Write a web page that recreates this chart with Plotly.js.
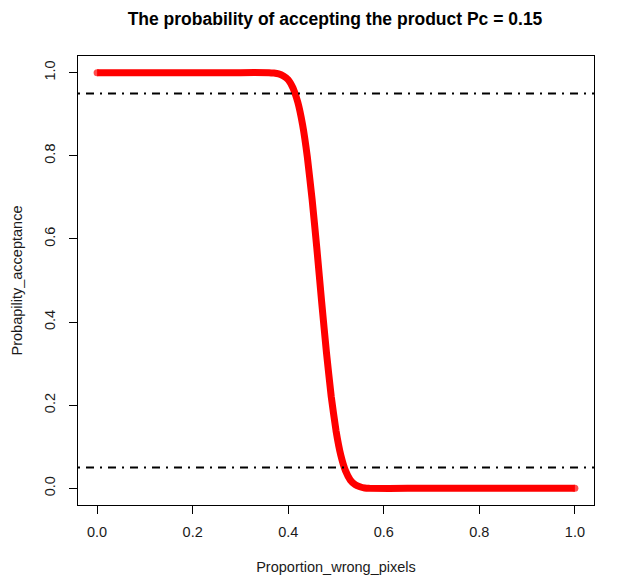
<!DOCTYPE html>
<html>
<head>
<meta charset="utf-8">
<script src="https://cdn.plot.ly/plotly-3.0.1.min.js"></script>
<style>html,body{margin:0;padding:0;background:#fff;}#chart{width:619px;height:585px;}</style>
</head>
<body>
<div id="chart"></div>
<script>
// Values
const proportionWrong = [0.00, 0.30, 0.36, 0.37, 0.38, 0.39, 0.40, 0.41, 0.42, 0.43, 0.44, 0.45, 0.46, 0.47, 0.48, 0.49, 0.50, 0.51, 0.52, 0.53, 0.54, 0.55, 0.56, 0.57, 0.65, 1.00];
const probAccept = [1.000, 1.000, 1.000, 0.999, 0.997, 0.992, 0.983, 0.963, 0.929, 0.875, 0.797, 0.695, 0.576, 0.448, 0.327, 0.221, 0.139, 0.080, 0.042, 0.020, 0.009, 0.004, 0.001, 0.000, 0.000, 0.000];
const refLevels = [0.95, 0.05];
const xTicks = [0, 0.2, 0.4, 0.6, 0.8, 1.0];
const yTicks = [0, 0.2, 0.4, 0.6, 0.8, 1.0];
const titleText = "The probability of accepting the product Pc = 0.15";
const xTitle = "Proportion_wrong_pixels";
const yTitle = "Probapility_acceptance";

const lastIdx = proportionWrong.length - 1;
const trace = {
  x: proportionWrong,
  y: probAccept,
  type: 'scatter',
  mode: 'lines+markers',
  line: {color: '#ff0000', width: 7, shape: 'spline', smoothing: 0.35},
  marker: {color: '#ff0000', size: proportionWrong.map((_, i) => (i === 0 || i === lastIdx) ? 7 : 0), line: {width: 0}},
  hoverinfo: 'skip'
};

const shapes = refLevels.map(v => ({
  type: 'line', xref: 'paper', x0: 0, x1: 1, yref: 'y', y0: v, y1: v,
  line: {color: '#000000', width: 2, dash: '2px,6px,8px,6px'}
}));

const txtColor = '#1a1a1a';
const layout = {
  width: 619, height: 585,
  paper_bgcolor: '#ffffff', plot_bgcolor: '#ffffff',
  margin: {l: 78, r: 25, t: 56, b: 80, pad: 0},
  font: {family: 'Liberation Sans, Arial, sans-serif', size: 14.5, color: txtColor},
  showlegend: false,
  title: {
    text: titleText,
    x: 335/619, xref: 'container', xanchor: 'center',
    y: 1 - 19/585, yref: 'container', yanchor: 'middle',
    font: {family: 'Liberation Sans, Arial, sans-serif', size: 17.5, color: '#000000', weight: 'bold'}
  },
  xaxis: {
    range: [-0.04, 1.04], tickvals: xTicks, ticktext: xTicks.map(v => v.toFixed(1)),
    showgrid: false, zeroline: false, showline: true, mirror: true,
    linecolor: '#000000', linewidth: 1, ticks: 'outside', ticklen: 8, tickcolor: '#000000', tickwidth: 1,
    ticklabelstandoff: 6,
    tickfont: {size: 14.5, color: txtColor},
    title: {text: xTitle, standoff: 22, font: {size: 14.5, color: txtColor}},
    automargin: false, fixedrange: true
  },
  yaxis: {
    range: [-0.04, 1.04], tickvals: yTicks, ticktext: yTicks.map(v => v.toFixed(1)),
    tickangle: -90,
    showgrid: false, zeroline: false, showline: true, mirror: true,
    linecolor: '#000000', linewidth: 1, ticks: 'outside', ticklen: 8, tickcolor: '#000000', tickwidth: 1,
    ticklabelstandoff: 8,
    tickfont: {size: 14.5, color: txtColor},
    title: {text: yTitle, standoff: 16, font: {size: 14.5, color: txtColor}},
    automargin: false, fixedrange: true
  },
  shapes: shapes
};

Plotly.newPlot('chart', [trace], layout, {staticPlot: true, displayModeBar: false});
</script>
</body>
</html>
